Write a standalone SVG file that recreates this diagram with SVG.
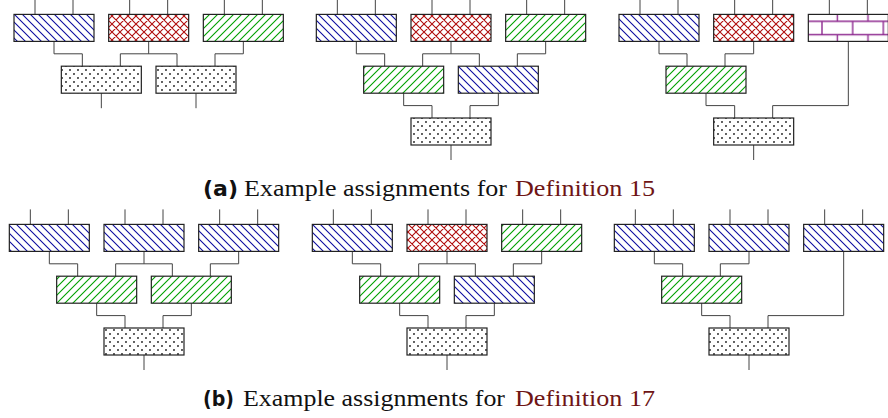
<svg xmlns="http://www.w3.org/2000/svg" width="888" height="418" viewBox="0 0 888 418">
<style>
.box{stroke:#222;stroke-width:1.2}
.conn path{fill:none;stroke:#444;stroke-width:1}
.serif{font-family:"Liberation Serif","Times New Roman",serif;font-size:24px;fill:#111}
.lbl{font-family:"DejaVu Sans","Liberation Sans",sans-serif;font-weight:bold;font-size:22px;fill:#111}
.ref{fill:#6e1515}
</style>
<defs>
<pattern id="blue" patternUnits="userSpaceOnUse" width="8" height="8">
<path d="M-2,-2 L10,10 M-2,6 L2,10 M6,-2 L10,2" stroke="#0c0ca0" stroke-width="1.1"/>
</pattern>
<pattern id="green" patternUnits="userSpaceOnUse" width="8" height="8">
<path d="M-2,10 L10,-2 M-2,2 L2,-2 M6,10 L10,6" stroke="#00a000" stroke-width="1.1"/>
</pattern>
<pattern id="red" patternUnits="userSpaceOnUse" width="8" height="8">
<path d="M-2,-2 L10,10 M-2,6 L2,10 M6,-2 L10,2 M-2,10 L10,-2 M-2,2 L2,-2 M6,10 L10,6" stroke="#b00c0c" stroke-width="1.1"/>
</pattern>
<pattern id="dots" patternUnits="userSpaceOnUse" width="8" height="8">
<circle cx="2" cy="2" r="1.05" fill="#3a3a3a"/>
<circle cx="6" cy="6" r="1.05" fill="#3a3a3a"/>
</pattern>
<pattern id="bricks" patternUnits="userSpaceOnUse" x="822" y="21.33" width="30.67" height="26.67">
<path d="M0,0 H30.67 M0,13.33 H30.67 M0,26.67 H30.67 M0,0 V13.33 M30.67,0 V13.33 M15.33,13.33 V26.67" stroke="#8e2a90" stroke-width="1.4" fill="none"/>
</pattern>
</defs>
<rect width="888" height="418" fill="#fff"/>

<g class="conn" id="connectors">
<!-- top-left -->
<path d="M35,0 V14.4 M73,0 V14.4 M129.67,0 V14.4 M167.67,0 V14.4 M224.33,0 V14.4 M262.33,0 V14.4"/>
<path d="M54,41.4 V53.8 H82.33 V66.2"/>
<path d="M148.67,41.4 V53.8 M120.33,66.2 V53.8 H177 V66.2"/>
<path d="M243.33,41.4 V53.8 H215 V66.2"/>
<path d="M101.33,93.2 V108.2 M196,93.2 V108.2"/>
<!-- top-middle -->
<path d="M337.33,0 V14.4 M375.33,0 V14.4 M432,0 V14.4 M470,0 V14.4 M526.67,0 V14.4 M564.67,0 V14.4"/>
<path d="M356.33,41.4 V53.8 H384.67 V66.2"/>
<path d="M451,41.4 V53.8 M422.67,66.2 V53.8 H479.33 V66.2"/>
<path d="M545.67,41.4 V53.8 H517.33 V66.2"/>
<path d="M403.67,93.2 V105.6 H432 V118"/>
<path d="M498.33,93.2 V105.6 H470 V118"/>
<path d="M451,145 V160"/>
<!-- top-right -->
<path d="M640,0 V14.4 M678,0 V14.4 M734.67,0 V14.4 M772.67,0 V14.4 M829.33,0 V14.4 M867.33,0 V14.4"/>
<path d="M659,41.4 V53.8 H687 V66.2"/>
<path d="M753.67,41.4 V53.8 H725 V66.2"/>
<path d="M706,93.2 V105.6 H734.67 V118"/>
<path d="M848.33,41.4 V105.6 H772.67 V118"/>
<path d="M753.67,145 V160"/>
<!-- bottom-left -->
<path d="M30.33,209.4 V224.4 M68.33,209.4 V224.4 M125,209.4 V224.4 M163,209.4 V224.4 M219.67,209.4 V224.4 M257.67,209.4 V224.4"/>
<path d="M49.33,251.4 V263.8 H77.67 V276.2"/>
<path d="M144,251.4 V263.8 M115.67,276.2 V263.8 H172.33 V276.2"/>
<path d="M238.67,251.4 V263.8 H210.33 V276.2"/>
<path d="M96.67,303.2 V315.6 H125 V328"/>
<path d="M191.33,303.2 V315.6 H163 V328"/>
<path d="M144,355 V370"/>
<!-- bottom-middle -->
<path d="M333.33,209.4 V224.4 M371.33,209.4 V224.4 M428,209.4 V224.4 M466,209.4 V224.4 M522.67,209.4 V224.4 M560.67,209.4 V224.4"/>
<path d="M352.33,251.4 V263.8 H380.67 V276.2"/>
<path d="M447,251.4 V263.8 M418.67,276.2 V263.8 H475.33 V276.2"/>
<path d="M541.67,251.4 V263.8 H513.33 V276.2"/>
<path d="M399.67,303.2 V315.6 H428 V328"/>
<path d="M494.33,303.2 V315.6 H466 V328"/>
<path d="M447,355 V370"/>
<!-- bottom-right -->
<path d="M635.33,209.4 V224.4 M673.33,209.4 V224.4 M730,209.4 V224.4 M768,209.4 V224.4 M824.67,209.4 V224.4 M862.67,209.4 V224.4"/>
<path d="M654.33,251.4 V263.8 H682.67 V276.2"/>
<path d="M749,251.4 V263.8 H720.33 V276.2"/>
<path d="M701.67,303.2 V315.6 H730 V328"/>
<path d="M843.67,251.4 V315.6 H768 V328"/>
<path d="M749,355 V370"/>
</g>

<!-- top-left panel -->
<g id="tl-a"><rect class="box" x="14" y="14.4" width="80" height="27" fill="url(#blue)"/></g>
<g id="tl-b"><rect class="box" x="108.67" y="14.4" width="80" height="27" fill="url(#red)"/></g>
<g id="tl-c"><rect class="box" x="203.33" y="14.4" width="80" height="27" fill="url(#green)"/></g>
<g id="tl-d"><rect class="box" x="61.33" y="66.2" width="80" height="27" fill="url(#dots)"/></g>
<g id="tl-e"><rect class="box" x="156" y="66.2" width="80" height="27" fill="url(#dots)"/></g>

<!-- top-middle panel -->
<g id="tm-a"><rect class="box" x="316.33" y="14.4" width="80" height="27" fill="url(#blue)"/></g>
<g id="tm-b"><rect class="box" x="411" y="14.4" width="80" height="27" fill="url(#red)"/></g>
<g id="tm-c"><rect class="box" x="505.67" y="14.4" width="80" height="27" fill="url(#green)"/></g>
<g id="tm-d"><rect class="box" x="363.67" y="66.2" width="80" height="27" fill="url(#green)"/></g>
<g id="tm-e"><rect class="box" x="458.33" y="66.2" width="80" height="27" fill="url(#blue)"/></g>
<g id="tm-f"><rect class="box" x="411" y="118" width="80" height="27" fill="url(#dots)"/></g>

<!-- top-right panel -->
<g id="tr-a"><rect class="box" x="619" y="14.4" width="80" height="27" fill="url(#blue)"/></g>
<g id="tr-b"><rect class="box" x="713.67" y="14.4" width="80" height="27" fill="url(#red)"/></g>
<g id="tr-c"><rect class="box" x="808.33" y="14.4" width="80" height="27" fill="url(#bricks)"/></g>
<g id="tr-d"><rect class="box" x="666" y="66.2" width="80" height="27" fill="url(#green)"/></g>
<g id="tr-f"><rect class="box" x="713.67" y="118" width="80" height="27" fill="url(#dots)"/></g>

<!-- bottom-left panel -->
<g id="bl-a"><rect class="box" x="9.33" y="224.4" width="80" height="27" fill="url(#blue)"/></g>
<g id="bl-b"><rect class="box" x="104" y="224.4" width="80" height="27" fill="url(#blue)"/></g>
<g id="bl-c"><rect class="box" x="198.67" y="224.4" width="80" height="27" fill="url(#blue)"/></g>
<g id="bl-d"><rect class="box" x="56.67" y="276.2" width="80" height="27" fill="url(#green)"/></g>
<g id="bl-e"><rect class="box" x="151.33" y="276.2" width="80" height="27" fill="url(#green)"/></g>
<g id="bl-f"><rect class="box" x="104" y="328" width="80" height="27" fill="url(#dots)"/></g>

<!-- bottom-middle panel -->
<g id="bm-a"><rect class="box" x="312.33" y="224.4" width="80" height="27" fill="url(#blue)"/></g>
<g id="bm-b"><rect class="box" x="407" y="224.4" width="80" height="27" fill="url(#red)"/></g>
<g id="bm-c"><rect class="box" x="501.67" y="224.4" width="80" height="27" fill="url(#green)"/></g>
<g id="bm-d"><rect class="box" x="359.67" y="276.2" width="80" height="27" fill="url(#green)"/></g>
<g id="bm-e"><rect class="box" x="454.33" y="276.2" width="80" height="27" fill="url(#blue)"/></g>
<g id="bm-f"><rect class="box" x="407" y="328" width="80" height="27" fill="url(#dots)"/></g>

<!-- bottom-right panel -->
<g id="br-a"><rect class="box" x="614.33" y="224.4" width="80" height="27" fill="url(#blue)"/></g>
<g id="br-b"><rect class="box" x="709" y="224.4" width="80" height="27" fill="url(#blue)"/></g>
<g id="br-c"><rect class="box" x="803.67" y="224.4" width="80" height="27" fill="url(#blue)"/></g>
<g id="br-d"><rect class="box" x="661.67" y="276.2" width="80" height="27" fill="url(#green)"/></g>
<g id="br-f"><rect class="box" x="709" y="328" width="80" height="27" fill="url(#dots)"/></g>

<!-- captions -->
<g id="caption-a">
<text class="lbl" x="203" y="196" textLength="35" lengthAdjust="spacingAndGlyphs">(a)</text>
<text class="serif" x="244" y="196" textLength="263" lengthAdjust="spacingAndGlyphs">Example assignments for</text>
<text class="serif ref" x="515" y="196" textLength="140" lengthAdjust="spacingAndGlyphs">Definition 15</text>
</g>
<g id="caption-b">
<text class="lbl" x="203" y="406" textLength="31" lengthAdjust="spacingAndGlyphs">(b)</text>
<text class="serif" x="243" y="406" textLength="262" lengthAdjust="spacingAndGlyphs">Example assignments for</text>
<text class="serif ref" x="515" y="406" textLength="140" lengthAdjust="spacingAndGlyphs">Definition 17</text>
</g>
</svg>
